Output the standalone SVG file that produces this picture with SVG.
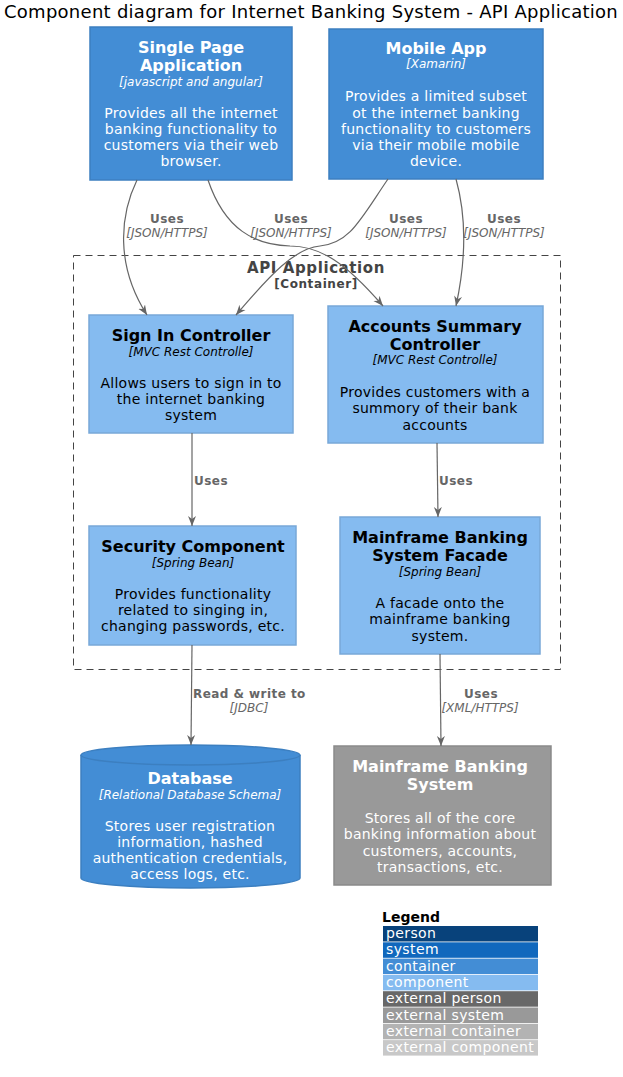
<svg xmlns="http://www.w3.org/2000/svg" width="623" height="1077" viewBox="0 0 623 1077">
<style>
text{font-family:"DejaVu Sans","Liberation Sans",sans-serif;text-anchor:middle}
.ttl{font-size:18px;fill:#000;letter-spacing:0.27px}
.nt{font-size:16px;font-weight:bold}
.tech{font-size:12px;font-style:italic}
.desc{font-size:14px;letter-spacing:0.25px}
.w{fill:#FFFFFF}
.k{fill:#000000}
.cont{fill:#438DD5;stroke:#3C7FC0;stroke-width:1.5}
.comp{fill:#85BBF0;stroke:#78A8D8;stroke-width:1.5}
.ext{fill:#999999;stroke:#8A8A8A;stroke-width:1.5}
.edge{fill:none;stroke:#666666;stroke-width:1.2}
.el{font-size:12px;font-weight:bold;fill:#666666;letter-spacing:0.45px}
.et{font-size:12px;font-style:italic;fill:#666666}
.lg{font-size:14px;fill:#FFFFFF;text-anchor:start;letter-spacing:0.38px}
</style>
<defs>
<marker id="arr" viewBox="0 0 10 10" refX="10" refY="5" markerWidth="10" markerHeight="10" markerUnits="userSpaceOnUse" orient="auto">
<path d="M0,1 L10,5 L0,9 L3,5 Z" fill="#666666"/>
</marker>
</defs>
<rect width="623" height="1077" fill="#FFFFFF"/>
<text class="ttl" x="311" y="18">Component diagram for Internet Banking System - API Application</text>

<g id="boundary">
<rect x="73.5" y="255.5" width="487" height="414" fill="none" stroke="#444444" stroke-width="1" stroke-dasharray="7,5"/>
<text x="316" y="273" style="font-size:15px;font-weight:bold;fill:#444444;letter-spacing:0.6px">API Application</text>
<text x="316" y="288" style="font-size:12px;font-weight:bold;fill:#444444;letter-spacing:0.6px">[Container]</text>
</g>

<g id="spa">
<rect class="cont" x="90" y="27" width="202" height="153"/>
<text class="nt w" x="191" y="53">Single Page</text>
<text class="nt w" x="191" y="71">Application</text>
<text class="tech w" x="191" y="86">[javascript and angular]</text>
<text class="desc w" x="191" y="118">Provides all the internet</text>
<text class="desc w" x="191" y="134">banking functionality to</text>
<text class="desc w" x="191" y="150">customers via their web</text>
<text class="desc w" x="191" y="166">browser.</text>
</g>

<g id="mobile">
<rect class="cont" x="329" y="29" width="214" height="150"/>
<text class="nt w" x="436" y="54">Mobile App</text>
<text class="tech w" x="436" y="68">[Xamarin]</text>
<text class="desc w" x="436" y="101">Provides a limited subset</text>
<text class="desc w" x="436" y="118">ot the internet banking</text>
<text class="desc w" x="436" y="134">functionality to customers</text>
<text class="desc w" x="436" y="150">via their mobile mobile</text>
<text class="desc w" x="436" y="166">device.</text>
</g>

<g id="signin">
<rect class="comp" x="89" y="315" width="204" height="118"/>
<text class="nt k" x="191" y="341">Sign In Controller</text>
<text class="tech k" x="191" y="356">[MVC Rest Controlle]</text>
<text class="desc k" x="191" y="388">Allows users to sign in to</text>
<text class="desc k" x="191" y="404">the internet banking</text>
<text class="desc k" x="191" y="420">system</text>
</g>

<g id="accounts">
<rect class="comp" x="328" y="306" width="215" height="137"/>
<text class="nt k" x="435" y="332">Accounts Summary</text>
<text class="nt k" x="435" y="350">Controller</text>
<text class="tech k" x="435" y="364">[MVC Rest Controlle]</text>
<text class="desc k" x="435" y="397">Provides customers with a</text>
<text class="desc k" x="435" y="413">summory of their bank</text>
<text class="desc k" x="435" y="430">accounts</text>
</g>

<g id="security">
<rect class="comp" x="89" y="526" width="207" height="119"/>
<text class="nt k" x="193" y="552">Security Component</text>
<text class="tech k" x="193" y="567">[Spring Bean]</text>
<text class="desc k" x="193" y="599">Provides functionality</text>
<text class="desc k" x="193" y="615">related to singing in,</text>
<text class="desc k" x="193" y="631">changing passwords, etc.</text>
</g>

<g id="facade">
<rect class="comp" x="340" y="517" width="200" height="137"/>
<text class="nt k" x="440" y="543">Mainframe Banking</text>
<text class="nt k" x="440" y="561">System Facade</text>
<text class="tech k" x="440" y="576">[Spring Bean]</text>
<text class="desc k" x="440" y="608">A facade onto the</text>
<text class="desc k" x="440" y="624">mainframe banking</text>
<text class="desc k" x="440" y="641">system.</text>
</g>

<g id="database">
<path class="cont" d="M81,755 A109.5,10 0 0 1 300,755 L300,878 A109.5,10 0 0 1 81,878 Z"/>
<path d="M81,755 A109.5,10 0 0 0 300,755" fill="none" stroke="#3C7FC0" stroke-width="1.5"/>
<text class="nt w" x="190" y="784">Database</text>
<text class="tech w" x="190" y="799">[Relational Database Schema]</text>
<text class="desc w" x="190" y="831">Stores user registration</text>
<text class="desc w" x="190" y="847">information, hashed</text>
<text class="desc w" x="190" y="863">authentication credentials,</text>
<text class="desc w" x="190" y="879">access logs, etc.</text>
</g>

<g id="mainframe">
<rect class="ext" x="334" y="746" width="217" height="139"/>
<text class="nt w" x="440" y="772">Mainframe Banking</text>
<text class="nt w" x="440" y="790">System</text>
<text class="desc w" x="440" y="823">Stores all of the core</text>
<text class="desc w" x="440" y="839">banking information about</text>
<text class="desc w" x="440" y="856">customers, accounts,</text>
<text class="desc w" x="440" y="872">transactions, etc.</text>
</g>

<g id="connectors">
<path class="edge" marker-end="url(#arr)" d="M137,180 C120,215 115,265 147,315"/>
<path class="edge" marker-end="url(#arr)" d="M208,180 C225,230 255,245 290,246 C320,246 345,262 383,306"/>
<path class="edge" marker-end="url(#arr)" d="M388,179 C360,220 350,243 320,246 C295,248 270,275 236,315"/>
<path class="edge" marker-end="url(#arr)" d="M456,179 C466,215 466,260 456,306"/>
<path class="edge" marker-end="url(#arr)" d="M192,433 L192,526"/>
<path class="edge" marker-end="url(#arr)" d="M437,443 L438,517"/>
<path class="edge" marker-end="url(#arr)" d="M192,645 L191,745"/>
<path class="edge" marker-end="url(#arr)" d="M440,654 L441,746"/>
<text class="el" x="167" y="223">Uses</text>
<text class="et" x="167" y="237">[JSON/HTTPS]</text>
<text class="el" x="291" y="223">Uses</text>
<text class="et" x="291" y="237">[JSON/HTTPS]</text>
<text class="el" x="406" y="223">Uses</text>
<text class="et" x="406" y="237">[JSON/HTTPS]</text>
<text class="el" x="504" y="223">Uses</text>
<text class="et" x="504" y="237">[JSON/HTTPS]</text>
<text class="el" x="194" y="485" style="text-anchor:start">Uses</text>
<text class="el" x="439" y="485" style="text-anchor:start">Uses</text>
<text class="el" x="193" y="698" style="text-anchor:start">Read &amp; write to</text>
<text class="et" x="249" y="712">[JDBC]</text>
<text class="el" x="481" y="698">Uses</text>
<text class="et" x="480" y="712">[XML/HTTPS]</text>
</g>

<g id="legend">
<text x="382" y="922" style="font-size:14px;font-weight:bold;fill:#000;text-anchor:start">Legend</text>
<rect x="383" y="926" width="155" height="15.5" fill="#08427B"/>
<rect x="383" y="942.3" width="155" height="15.5" fill="#1168BD"/>
<rect x="383" y="958.6" width="155" height="15.5" fill="#438DD5"/>
<rect x="383" y="974.9" width="155" height="15.5" fill="#85BBF0"/>
<rect x="383" y="991.2" width="155" height="15.5" fill="#686868"/>
<rect x="383" y="1007.5" width="155" height="15.5" fill="#999999"/>
<rect x="383" y="1023.8" width="155" height="15.5" fill="#B3B3B3"/>
<rect x="383" y="1040.1" width="155" height="15.5" fill="#C8C8C8"/>
<text class="lg" x="386" y="938">person</text>
<text class="lg" x="386" y="954.3">system</text>
<text class="lg" x="386" y="970.6">container</text>
<text class="lg" x="386" y="986.9">component</text>
<text class="lg" x="386" y="1003.2">external person</text>
<text class="lg" x="386" y="1019.5">external system</text>
<text class="lg" x="386" y="1035.8">external container</text>
<text class="lg" x="386" y="1052.1">external component</text>
</g>
</svg>
